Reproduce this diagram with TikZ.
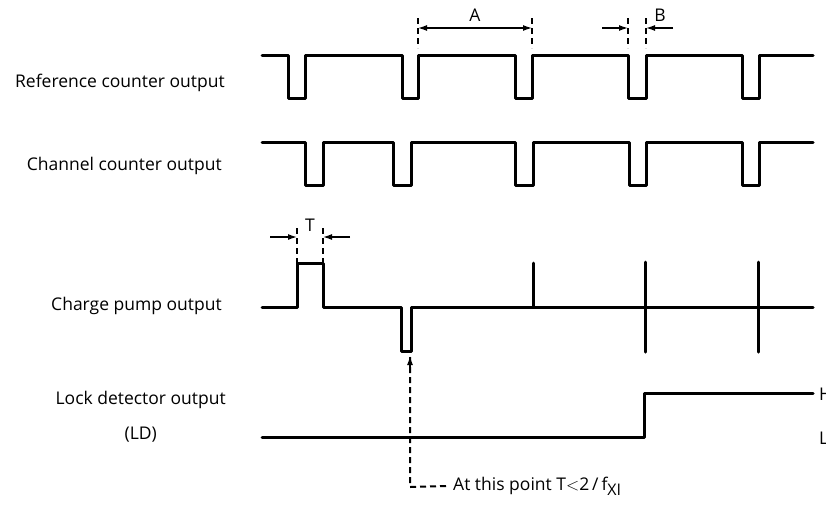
\documentclass[tikz,border=0pt]{standalone}
\usepackage{fontspec}
\setmainfont{Open Sans}
\usetikzlibrary{arrows.meta}
\begin{document}
\begin{tikzpicture}[x=1pt,y=-1pt,
  wave/.style={line width=3pt, line join=round, line cap=round},
  tipstyle/.style={},
  dimarrow/.style={line width=1.3pt, -{Latex[length=9pt,width=6pt]}},
  extline/.style={line width=2pt, dash pattern=on 6pt off 4pt},
  lbl/.style={font=\fontsize{17.5}{21}\selectfont, inner sep=0pt},
  sig/.style={lbl, anchor=east}]
\useasboundingbox (0,0) rectangle (826,507);
% labels
\node[sig] (ref) at (225,83) {Reference counter output};
\node[sig] (chan) at (222,166) {Channel counter output};
\node[sig] (cp) at (222,306) {Charge pump output};
\node[sig] (ld) at (226,400) {Lock detector output};
\node[lbl] (ldp) at ([yshift=-35pt]ld.center) {(LD)};
% reference counter
\draw[wave] (262,55) -- (288,55) -- (288,98) -- (305,98) -- (305,55) -- (402,55) -- (402,98) -- (418,98) -- (418,55) -- (515,55) -- (515,98) -- (532,98) -- (532,55) -- (628,55) -- (628,98) -- (646,98) -- (646,55) -- (742,55) -- (742,98) -- (759,98) -- (759,55) -- (813,55);
% channel counter
\draw[wave] (262,142) -- (305,142) -- (305,185) -- (323,185) -- (323,142) -- (393,142) -- (393,185) -- (411,185) -- (411,142) -- (515,142) -- (515,185) -- (533,185) -- (533,142) -- (629,142) -- (629,185) -- (646,185) -- (646,142) -- (742,142) -- (742,185) -- (759,185) -- (759,142) -- (813,142);
% charge pump
\draw[wave] (262,307) -- (297,307) -- (297,263) -- (323,263) -- (323,307) -- (401,307) -- (401,351) -- (411,351) -- (411,307) -- (813,307);
\draw[wave] (533,263) -- (533,307);
\draw[wave] (645,262) -- (645,352);
\draw[wave] (758,262) -- (758,352);
% lock detector
\draw[wave] (262,437) -- (644,437) -- (644,393) -- (813,393);
\node[lbl, anchor=west] (hl) at (819,394) {H};
\node[lbl, anchor=west] (ll) at (819,438) {L};
% dimension A
\coordinate (a1) at (418,28); \coordinate (a2) at (532,28);
\draw[extline] (418,18) -- (418,48);
\draw[extline] (532,18) -- (532,48);
\draw[line width=1.3pt, {Latex[length=9pt,width=6pt]}-{Latex[length=9pt,width=6pt]}] (a1) -- (a2);
\node[lbl] (la) at (475,15) {A};
% dimension B
\coordinate (b1) at (628,28); \coordinate (b2) at (646,28);
\coordinate (b0) at (602,28); \coordinate (b3) at (673,28);
\draw[extline] (628,18) -- (628,48);
\draw[extline] (646,18) -- (646,48);
\draw[dimarrow] (b0) -- (b1);
\draw[dimarrow] (b3) -- (b2);
\node[lbl] (lb) at (660,15) {B};
% dimension T
\coordinate (t1) at (297,237); \coordinate (t2) at (323,237);
\coordinate (t0) at (270,237); \coordinate (t3) at (350,237);
\draw[extline] (297,228) -- (297,263);
\draw[extline] (323,228) -- (323,263);
\draw[dimarrow] (t0) -- (t1);
\draw[dimarrow] (t3) -- (t2);
\node[lbl] (lt) at (310,225) {T};
% note
\node[lbl, anchor=west, inner xsep=7pt] (note) at (446,486) {At this point T$<$2\,/\,f\raisebox{-5pt}{\fontsize{16}{18}\selectfont XI}};
\coordinate (corner) at (410,487);
\coordinate (tip) at (410,356);
\draw[extline] (note.west) -- (corner) -- (tip);
\draw[line width=1.3pt, -{Latex[length=9pt,width=6pt]}] (410,368) -- (tip);
\end{tikzpicture}
\end{document}
